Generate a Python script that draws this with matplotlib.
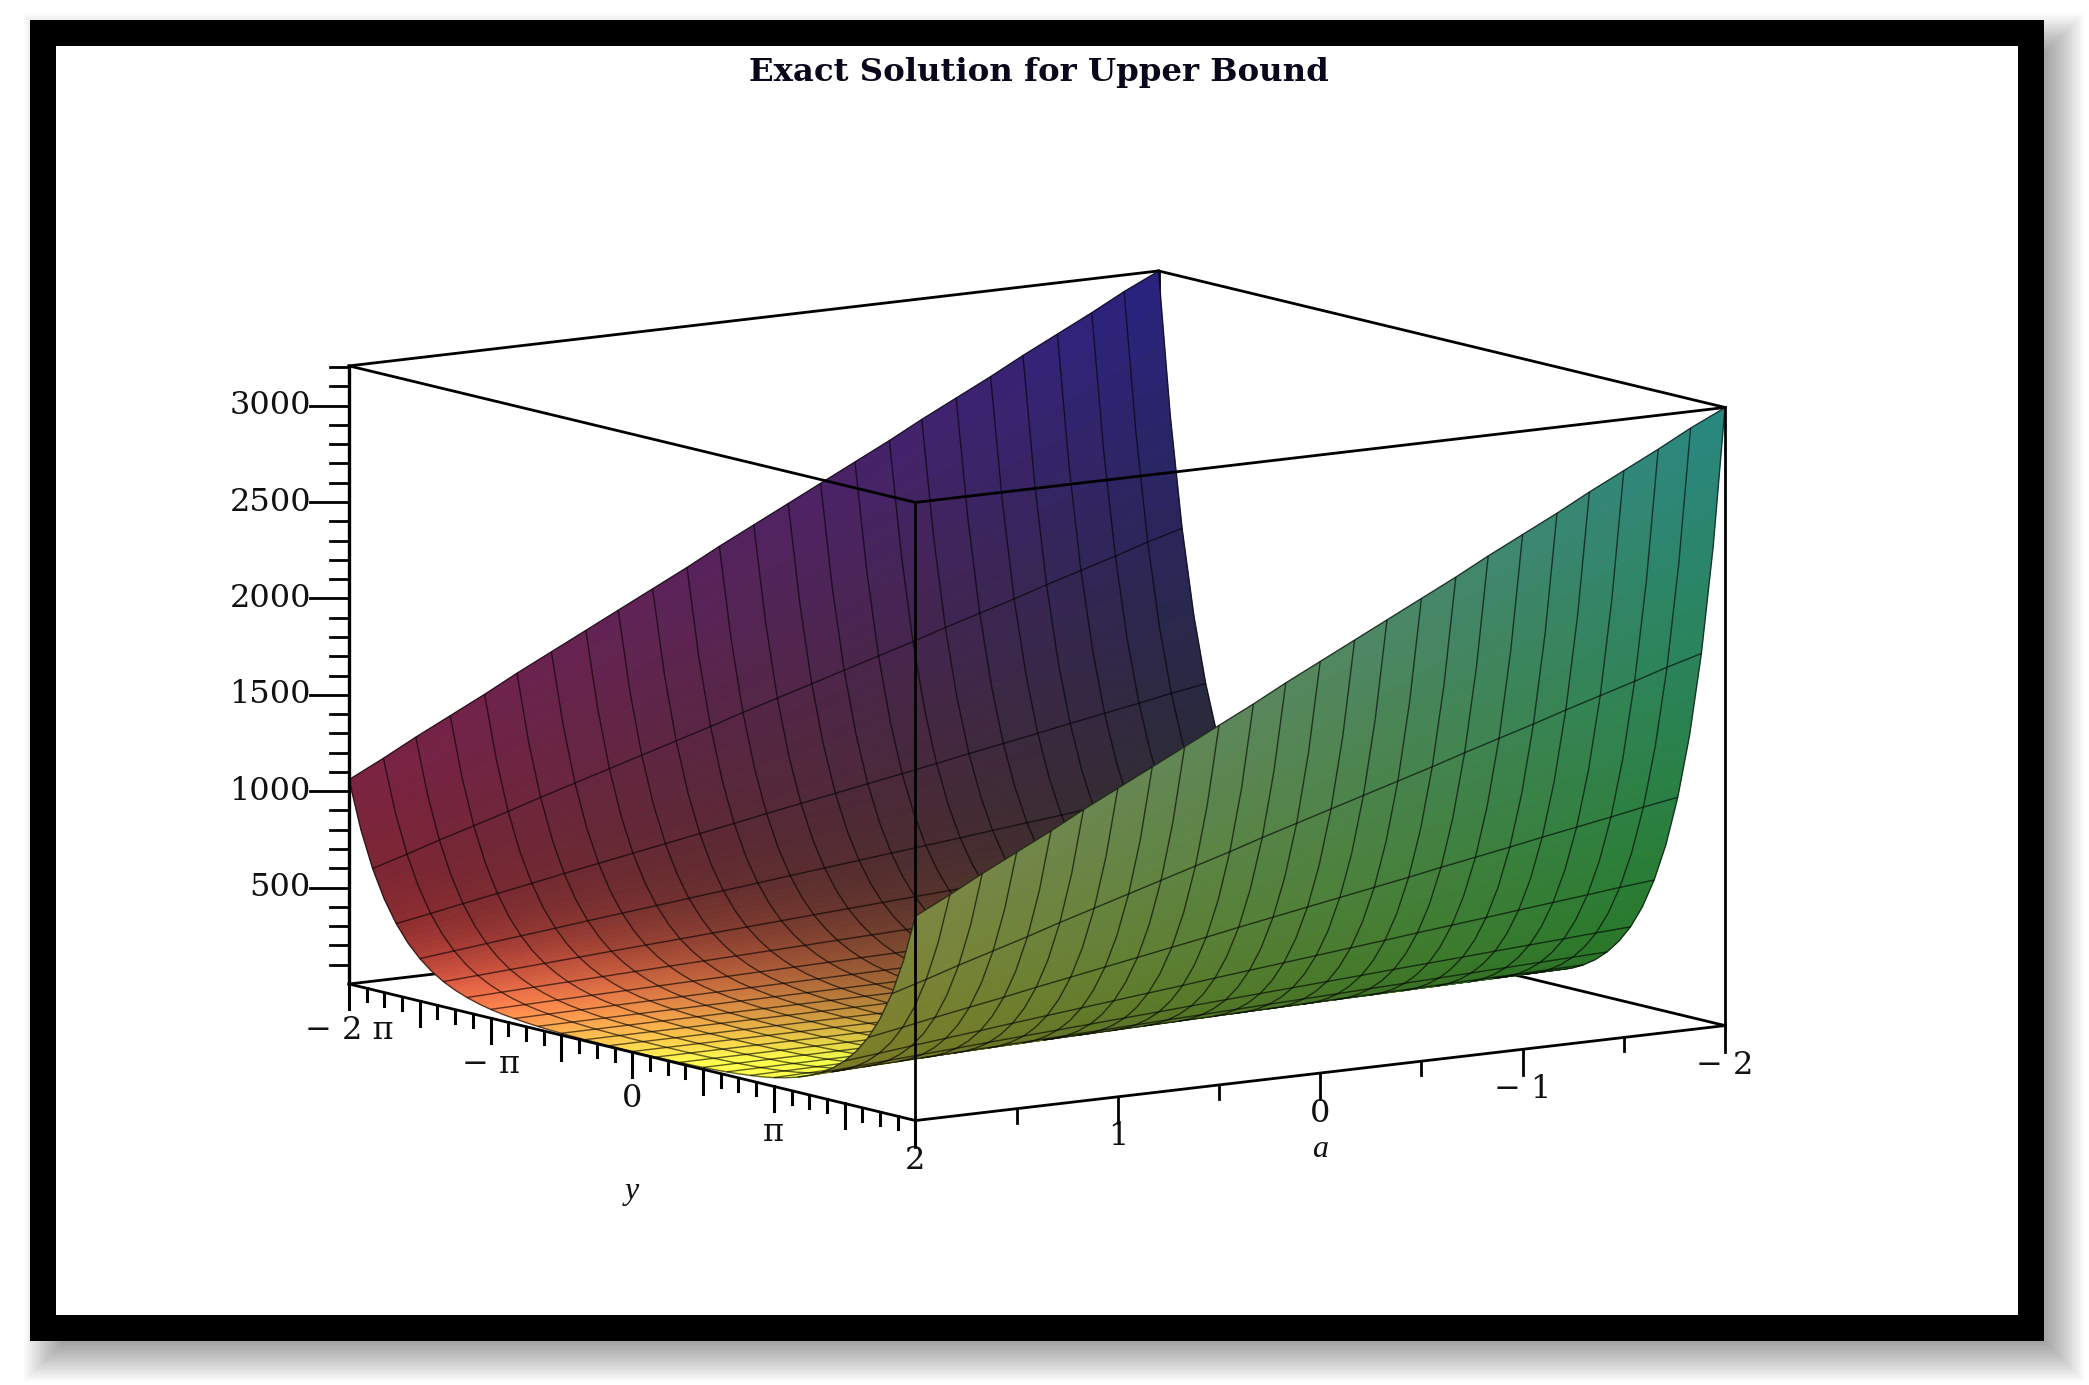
import numpy as np
import matplotlib
matplotlib.use('Agg')
import matplotlib.pyplot as plt
from matplotlib.patches import Rectangle
from mpl_toolkits.mplot3d import proj3d
from mpl_toolkits.mplot3d.art3d import Poly3DCollection, Line3DCollection

# Values
a_grid = [2.00, 1.83, 1.67, 1.50, 1.33, 1.17, 1.00, 0.83, 0.67, 0.50, 0.33, 0.17, 0.00,
          -0.17, -0.33, -0.50, -0.67, -0.83, -1.00, -1.17, -1.33, -1.50, -1.67, -1.83, -2.00]
y_grid = [-6.283, -6.021, -5.760, -5.498, -5.236, -4.974, -4.712, -4.451, -4.189, -3.927, -3.665, -3.403,
          -3.142, -2.880, -2.618, -2.356, -2.094, -1.833, -1.571, -1.309, -1.047, -0.785, -0.524, -0.262, 0.0,
          0.262, 0.524, 0.785, 1.047, 1.309, 1.571, 1.833, 2.094, 2.356, 2.618, 2.880, 3.142,
          3.403, 3.665, 3.927, 4.189, 4.451, 4.712, 4.974, 5.236, 5.498, 5.760, 6.021, 6.283]
# height along the y = +-2 pi edges, one value per a line
edge_height = [1060, 1150, 1240, 1330, 1420, 1510, 1600, 1690, 1775, 1865, 1955, 2045, 2135,
               2225, 2310, 2400, 2490, 2580, 2670, 2760, 2850, 2940, 3030, 3120, 3205]
# share of that edge height reached on each y line
y_profile = [1.0, 0.77, 0.593, 0.456, 0.351, 0.27, 0.208, 0.16, 0.123, 0.095, 0.073, 0.056,
             0.043, 0.033, 0.026, 0.02, 0.0154, 0.012, 0.0094, 0.0075, 0.006, 0.005, 0.0043, 0.0039, 0.0037,
             0.0039, 0.0043, 0.005, 0.006, 0.0075, 0.0094, 0.012, 0.0154, 0.02, 0.026, 0.033, 0.043,
             0.056, 0.073, 0.095, 0.123, 0.16, 0.208, 0.27, 0.351, 0.456, 0.593, 0.77, 1.0]

z_major = [500, 1000, 1500, 2000, 2500, 3000]
z_minor = [100, 200, 300, 400, 600, 700, 800, 900, 1100, 1200, 1300, 1400, 1600, 1700, 1800, 1900,
           2100, 2200, 2300, 2400, 2600, 2700, 2800, 2900, 3100, 3200]
y_major = [-6.283, -4.712, -3.142, -1.571, 0.0, 1.571, 3.142, 4.712, 6.283]
y_minor = [-5.890, -5.498, -5.105, -4.320, -3.927, -3.534, -2.749, -2.356, -1.963, -1.178, -0.785, -0.393,
           0.393, 0.785, 1.178, 1.963, 2.356, 2.749, 3.534, 3.927, 4.320, 5.105, 5.498, 5.890]
y_labels = {-6.283: '\u2212 2 \u03c0', -3.142: '\u2212 \u03c0', 0.0: '0', 3.142: '\u03c0'}
a_major = [2, 1, 0, -1, -2]
a_minor = [1.5, 0.5, -0.5, -1.5]
a_labels = {2: '2', 1: '1', 0: '0', -1: '\u2212 1', -2: '\u2212 2'}

W, H = 2089, 1385
SERIF = 'DejaVu Serif'
A_MIN, A_MAX = -2.0, 2.0
Y_MIN, Y_MAX = -2*np.pi, 2*np.pi
Z_MIN, Z_MAX = 0.0, 3206.0
BOX = (987.0, 990.0, 627.0)
ELEV, AZIM = 9.68, 55.1
STRIPS = 4  # colour steps inside one mesh cell

a_grid = np.array(a_grid)
y_grid = np.array(y_grid)
A, Y = np.meshgrid(a_grid, y_grid)
Z = np.outer(y_profile, edge_height)

fig = plt.figure(figsize=(W/100, H/100), dpi=100, facecolor='white')

# Page decoration: shadow, black frame and title in pixel coordinates
page = fig.add_axes([0, 0, 1, 1], zorder=0)
page.set_xlim(0, W)
page.set_ylim(H, 0)
page.axis('off')
for grow in np.arange(26, -16, -2.0):
  page.add_patch(Rectangle((50-grow, 40-grow), 2008+2*grow, 1315+2*grow, fc='black', ec='none', alpha=0.02))
page.add_patch(Rectangle((30, 20), 2014, 1321, fc='black', ec='none'))
page.add_patch(Rectangle((56, 46), 1962, 1269, fc='white', ec='none'))
page.text(1039, 73, 'Exact Solution for Upper Bound', family=SERIF, weight='bold', fontsize=23.3,
          ha='center', va='center', color='#08081a')

ax = fig.add_axes([0, 0, 1, 1], projection='3d', proj_type='ortho', computed_zorder=False, zorder=1)
ax.patch.set_alpha(0)
ax.view_init(elev=ELEV, azim=AZIM)
ax.set_box_aspect(BOX)
ax.set_xlim(A_MIN, A_MAX, view_margin=0)
ax.set_ylim(Y_MIN, Y_MAX, view_margin=0)
ax.set_zlim(Z_MIN, Z_MAX, view_margin=0)
ax.set_axis_off()


def to_px(a, y, z):
  x2, y2, _ = proj3d.proj_transform(a, y, z, ax.get_proj())
  return ax.transData.transform((x2, y2))


def place(S, x0, y0):
  ax.set_position([x0/W, y0/H, S/W, S/H])
  ax.apply_aspect()


# Fit the projected box onto its place in the picture
S = H
x0, y0 = (W-S)/2, 0
place(S, x0, y0)
p0 = to_px(2, Y_MIN, 0)
p1 = to_px(-2, Y_MAX, 0)
S = S*(1725-349)/(p1[0]-p0[0])
place(S, x0, y0)
p0 = to_px(2, Y_MIN, 0)
x0 += 349-p0[0]
y0 += (H-984)-p0[1]
place(S, x0, y0)


def cell(m):
  return (m[:-1, :-1]+m[1:, :-1]+m[:-1, 1:]+m[1:, 1:])/4


a_scale = BOX[0]/(A_MAX-A_MIN)
y_scale = BOX[1]/(Y_MAX-Y_MIN)
z_scale = BOX[2]/(Z_MAX-Z_MIN)
dz_dy, dz_da = np.gradient(Z, y_grid, a_grid)
nx = -dz_da*z_scale/a_scale
ny = -dz_dy*z_scale/y_scale
e, az = np.radians(ELEV), np.radians(AZIM)
facing = cell(nx*np.cos(e)*np.cos(az)+ny*np.cos(e)*np.sin(az)+np.sin(e)) > 0


def shade(a, y, z, inner):
  # Colour from the position, the inner side blends to a bright colour near the a = 2 floor
  s = (2-a)/4
  t = (y-Y_MIN)/(Y_MAX-Y_MIN)
  base = np.array([40+85*(1-s), (35+70*t) if inner else (50+85*t), 33+97*z/Z_MAX])
  if not inner:
    return np.clip(base/255.0, 0, 1)
  lit = np.array([265.0, 55+340*t, 80.0])
  boost = np.exp(-(z/240.0)**1.5)*np.exp(-(s/0.48)**1.5)
  return np.clip((base+(lit-base)*boost)/255.0, 0, 1)


def strips(mask):
  # Each mesh cell is painted as a few strips so that the colour runs on smoothly
  polys, fcs = [], []
  for i, j in zip(*np.nonzero(mask)):
    for m in range(STRIPS):
      u0, u1 = m/STRIPS, (m+1)/STRIPS
      quad = []
      for u, n in ((u0, j), (u1, j), (u1, j+1), (u0, j+1)):
        quad.append((A[i, n]+u*(A[i+1, n]-A[i, n]), Y[i, n]+u*(Y[i+1, n]-Y[i, n]), Z[i, n]+u*(Z[i+1, n]-Z[i, n])))
      polys.append(quad)
      c = np.mean(quad, axis=0)
      fcs.append(shade(c[0], c[1], c[2], facing[i, j]))
  return polys, fcs


def mesh_segments(mask):
  # const a lines on all a_grid values, const y lines on every second y_grid value
  nrow, ncol = mask.shape
  segs = []
  for j in range(ncol+1):
    for i in range(nrow):
      if mask[i, min(j, ncol-1)]:
        segs.append([(A[i, j], Y[i, j], Z[i, j]), (A[i+1, j], Y[i+1, j], Z[i+1, j])])
  for i in range(0, nrow+1, 2):
    for j in range(ncol):
      if mask[min(i, nrow-1), j]:
        segs.append([(A[i, j], Y[i, j], Z[i, j]), (A[i, j+1], Y[i, j+1], Z[i, j+1])])
  return segs


# Inner side first, then its mesh, then the wing that hides it
for mask, zo in ((facing, 2.0), (~facing, 2.2)):
  polys, fcs = strips(mask)
  poly = Poly3DCollection(polys, facecolors=fcs, edgecolors=fcs, linewidths=0.6, zorder=zo)
  poly.set_clip_on(False)
  ax.add_collection3d(poly, autolim=False)
  mesh = Line3DCollection(mesh_segments(mask), colors=[(0, 0, 0, 0.62)], linewidths=1.0, zorder=zo+0.1)
  mesh.set_clip_on(False)
  ax.add_collection3d(mesh, autolim=False)


def line(p, q, lw=2.0, zorder=3):
  ax.plot([p[0], q[0]], [p[1], q[1]], [p[2], q[2]], color='black', lw=lw, zorder=zorder,
          solid_capstyle='projecting', clip_on=False)


def label(a, y, z, text, dx=0, dy=0, **kw):
  px, py = to_px(a, y, z)
  page.text(px+dx, H-py+dy, text, va='center', **kw)


# Box
lf = (2, Y_MIN)
fr = (2, Y_MAX)
rt = (-2, Y_MAX)
bk = (-2, Y_MIN)
for p, q in [(lf, bk), (bk, rt)]:
  line((*p, Z_MIN), (*q, Z_MIN), zorder=1)
  line((*p, Z_MAX), (*q, Z_MAX), zorder=1)
line((*bk, Z_MIN), (*bk, Z_MAX), zorder=1)
for p, q in [(lf, fr), (fr, rt)]:
  line((*p, Z_MIN), (*q, Z_MIN))
  line((*p, Z_MAX), (*q, Z_MAX))
line((*lf, Z_MIN), (*lf, Z_MAX), lw=2.4)
line((*fr, Z_MIN), (*fr, Z_MAX))
line((*rt, Z_MIN), (*rt, Z_MAX))

px_z = 1/(z_scale*np.cos(e))
label_font = dict(family=SERIF, fontsize=23, color='#111111')
italic_font = dict(family='Liberation Serif', style='italic', fontsize=23, color='#111111')


# z axis, ticks pointing left on screen
def left_of(a, y, px):
  return a+np.sin(az)*px/a_scale, y-np.cos(az)*px/y_scale


for z in z_major:
  a2, y2 = left_of(2, Y_MIN, 39)
  line((2, Y_MIN, z), (a2, y2, z), lw=2.0)
  label(2, Y_MIN, z, str(z), dx=-38, ha='right', **label_font)
for z in z_minor:
  a2, y2 = left_of(2, Y_MIN, 19)
  line((2, Y_MIN, z), (a2, y2, z), lw=2.0)

# y axis, ticks pointing down
for y in y_major:
  line((2, y, 0), (2, y, -25*px_z), lw=2.2)
for y in y_minor:
  line((2, y, 0), (2, y, -13*px_z), lw=2.2)
for y, text in y_labels.items():
  label(2, y, 0, text, dy=46, ha='center', **label_font)
label(2, 0, 0, 'y', dy=139, ha='center', **italic_font)

# a axis
for a in a_major:
  line((a, Y_MAX, 0), (a, Y_MAX, -26*px_z), lw=2.0)
for a in a_minor:
  line((a, Y_MAX, 0), (a, Y_MAX, -14*px_z), lw=2.0)
for a, text in a_labels.items():
  label(a, Y_MAX, 0, text, dy=40, ha='center', **label_font)
label(0, Y_MAX, 0, 'a', dy=76, ha='center', **italic_font)

fig.savefig('out.png', dpi=100)
